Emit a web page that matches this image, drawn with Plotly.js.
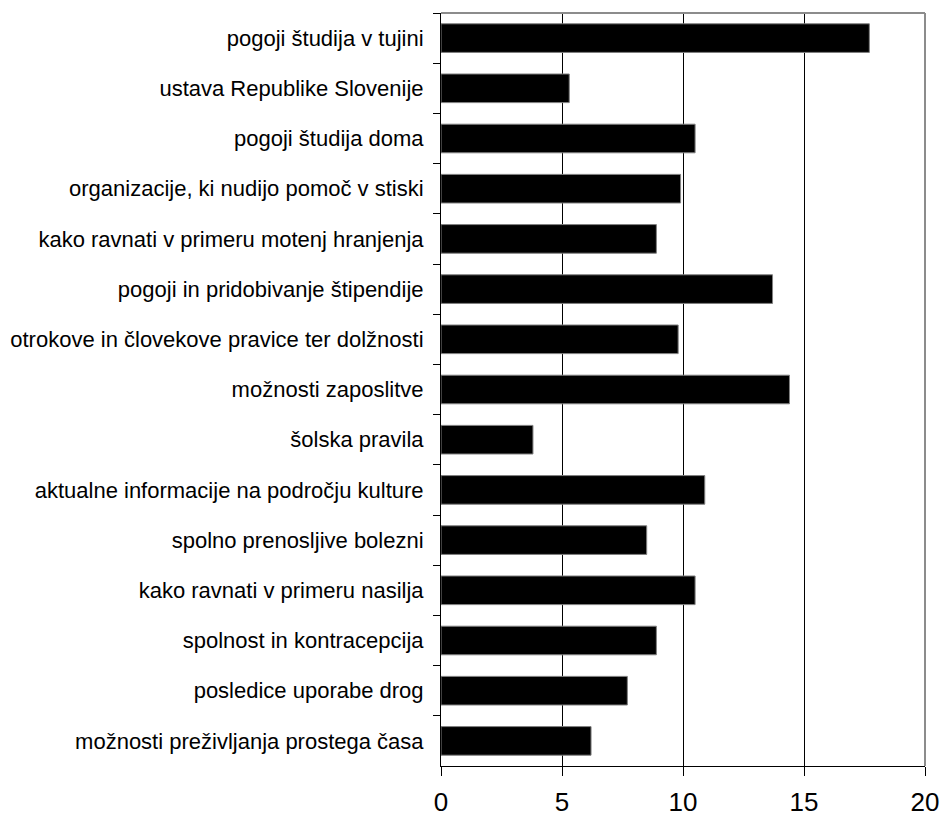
<!DOCTYPE html>
<html>
<head>
<meta charset="utf-8">
<script src="https://cdn.plot.ly/plotly-3.0.1.min.js"></script>
<style>html,body{margin:0;padding:0;background:#fff;}#chart{width:949px;height:816px;}</style>
</head>
<body>
<div id="chart"></div>
<script>
const categories = [
  "pogoji študija v tujini",
  "ustava Republike Slovenije",
  "pogoji študija doma",
  "organizacije, ki nudijo pomoč v stiski",
  "kako ravnati v primeru motenj hranjenja",
  "pogoji in pridobivanje štipendije",
  "otrokove in človekove pravice ter dolžnosti",
  "možnosti zaposlitve",
  "šolska pravila",
  "aktualne informacije na področju kulture",
  "spolno prenosljive bolezni",
  "kako ravnati v primeru nasilja",
  "spolnost in kontracepcija",
  "posledice uporabe drog",
  "možnosti preživljanja prostega časa"
];
const values = [17.7, 5.3, 10.5, 9.9, 8.9, 13.7, 9.8, 14.4, 3.8, 10.9, 8.5, 10.5, 8.9, 7.7, 6.2];
const xTicks = [0, 5, 10, 15, 20];

const font = "Liberation Sans, Arial, sans-serif";

const trace = {
  type: "bar",
  orientation: "h",
  y: categories,
  x: values,
  width: 0.57,
  marker: {color: "#000000", line: {color: "#808080", width: 1}},
  hoverinfo: "x+y"
};

const layout = {
  width: 949,
  height: 816,
  margin: {l: 441, r: 24, t: 13, b: 50, pad: 0},
  paper_bgcolor: "#ffffff",
  plot_bgcolor: "#ffffff",
  showlegend: false,
  font: {family: font, color: "#000000"},
  xaxis: {
    range: [0, 20],
    tickvals: xTicks,
    ticktext: xTicks.map(String),
    ticks: "outside",
    ticklen: 9,
    tickwidth: 1,
    tickcolor: "#000000",
    ticklabelstandoff: 4,
    showgrid: true,
    gridcolor: "#000000",
    gridwidth: 1,
    showline: true,
    linecolor: "#000000",
    linewidth: 1,
    zeroline: false,
    tickfont: {family: font, size: 26, color: "#000000"},
    fixedrange: true
  },
  yaxis: {
    type: "category",
    autorange: "reversed",
    tickson: "boundaries",
    ticks: "outside",
    ticklen: 7,
    tickwidth: 1,
    tickcolor: "#000000",
    ticklabelstandoff: 12,
    showgrid: false,
    showline: true,
    linecolor: "#000000",
    linewidth: 1,
    zeroline: false,
    tickfont: {family: font, size: 22, color: "#000000"},
    fixedrange: true
  },
  shapes: [
    {type: "line", xref: "paper", yref: "paper", x0: 0, x1: 1, y0: 1, y1: 1, line: {color: "#8c8c8c", width: 2}, layer: "above"},
    {type: "line", xref: "paper", yref: "paper", x0: 1, x1: 1, y0: 0, y1: 1, line: {color: "#8c8c8c", width: 2}, layer: "above"}
  ]
};

Plotly.newPlot("chart", [trace], layout, {displayModeBar: false, staticPlot: true});
</script>
</body>
</html>
